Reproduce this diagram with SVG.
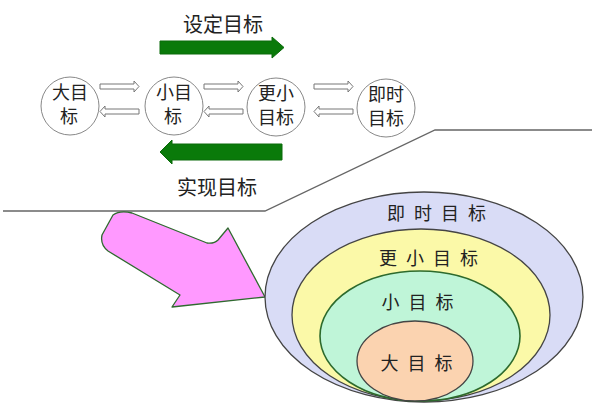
<svg xmlns="http://www.w3.org/2000/svg" width="600" height="417" viewBox="0 0 600 417">
<defs>
<style>
text{font-family:"Liberation Sans","Noto Sans CJK SC",sans-serif;fill:#222;text-anchor:middle}
.c{fill:#fff;stroke:#888;stroke-width:1}
.t{font-size:18px}
.h{fill:#fff;stroke:#777;stroke-width:1}
.g{fill:#0a7a0a;stroke:#0a6a0a;stroke-width:1}
.e{stroke:#444;stroke-width:1.3}
.lbl{font-size:18px;letter-spacing:9px}
.ttl{font-size:20px}
</style>
</defs>
<rect width="600" height="417" fill="#fff"/>
<g id="labels">
<text class="ttl" x="223" y="32">设定目标</text>
<text class="ttl" x="217" y="195">实现目标</text>
</g>
<g id="connectors">
<path class="g" d="M160,41 H272 V37 L284,47.5 L272,58 V54 H160 Z"/>
<path class="g" d="M282,144 H172 V140 L160,152 L172,164 V160 H282 Z"/>
<path class="h" d="M100,84 H134 V81 L139,86.5 L134,92 V89 H100 Z"/>
<path class="h" d="M139,109 H105 V106 L100,111.5 L105,117 V114 H139 Z"/>
<path class="h" d="M204,84 H238 V81 L243,86.5 L238,92 V89 H204 Z"/>
<path class="h" d="M243,109 H209 V106 L204,111.5 L209,117 V114 H243 Z"/>
<path class="h" d="M314,84 H348 V81 L353,86.5 L348,92 V89 H314 Z"/>
<path class="h" d="M353,109 H319 V106 L314,111.5 L319,117 V114 H353 Z"/>
<path d="M3,211 H265 L435,130 H592" fill="none" stroke="#666" stroke-width="1.3"/>
<path d="M113,215 Q120,210 132,213 L207,243 Q214,244 218,240 L228,228 L265,297 L172,307 L180,295 L108,251 Q100,245 102,235 Z" fill="#ff99ff" stroke="#2f6a2f" stroke-width="1.3" stroke-linejoin="round"/>
</g>
<g id="n-da">
<circle class="c" cx="70" cy="106" r="29"/>
<text class="t" x="70" y="99">大目</text>
<text class="t" x="69" y="123">标</text>
</g>
<g id="n-xiao">
<circle class="c" cx="174" cy="106" r="29"/>
<text class="t" x="174" y="99">小目</text>
<text class="t" x="173" y="123">标</text>
</g>
<g id="n-gengxiao">
<circle class="c" cx="276" cy="107" r="29"/>
<text class="t" x="276" y="100">更小</text>
<text class="t" x="276" y="124">目标</text>
</g>
<g id="n-jishi">
<circle class="c" cx="386" cy="108" r="29"/>
<text class="t" x="386" y="101">即时</text>
<text class="t" x="386" y="125">目标</text>
</g>
<g id="e-jishi">
<ellipse class="e" cx="424" cy="297" rx="159" ry="105" fill="#d9dcf6"/>
<text class="lbl" x="441" y="220">即时目标</text>
</g>
<g id="e-gengxiao">
<ellipse class="e" cx="421" cy="315" rx="129" ry="86" fill="#fbf9a8"/>
<text class="lbl" x="433" y="265">更小目标</text>
</g>
<g id="e-xiao">
<ellipse cx="420" cy="336" rx="100" ry="65" fill="#bff5d8" stroke="#2d6a2d" stroke-width="1.6"/>
<text class="lbl" x="422" y="309">小目标</text>
</g>
<g id="e-da">
<ellipse class="e" cx="415" cy="361" rx="58" ry="40" fill="#fbd3b0"/>
<text class="lbl" x="421" y="370">大目标</text>
</g>
</svg>
